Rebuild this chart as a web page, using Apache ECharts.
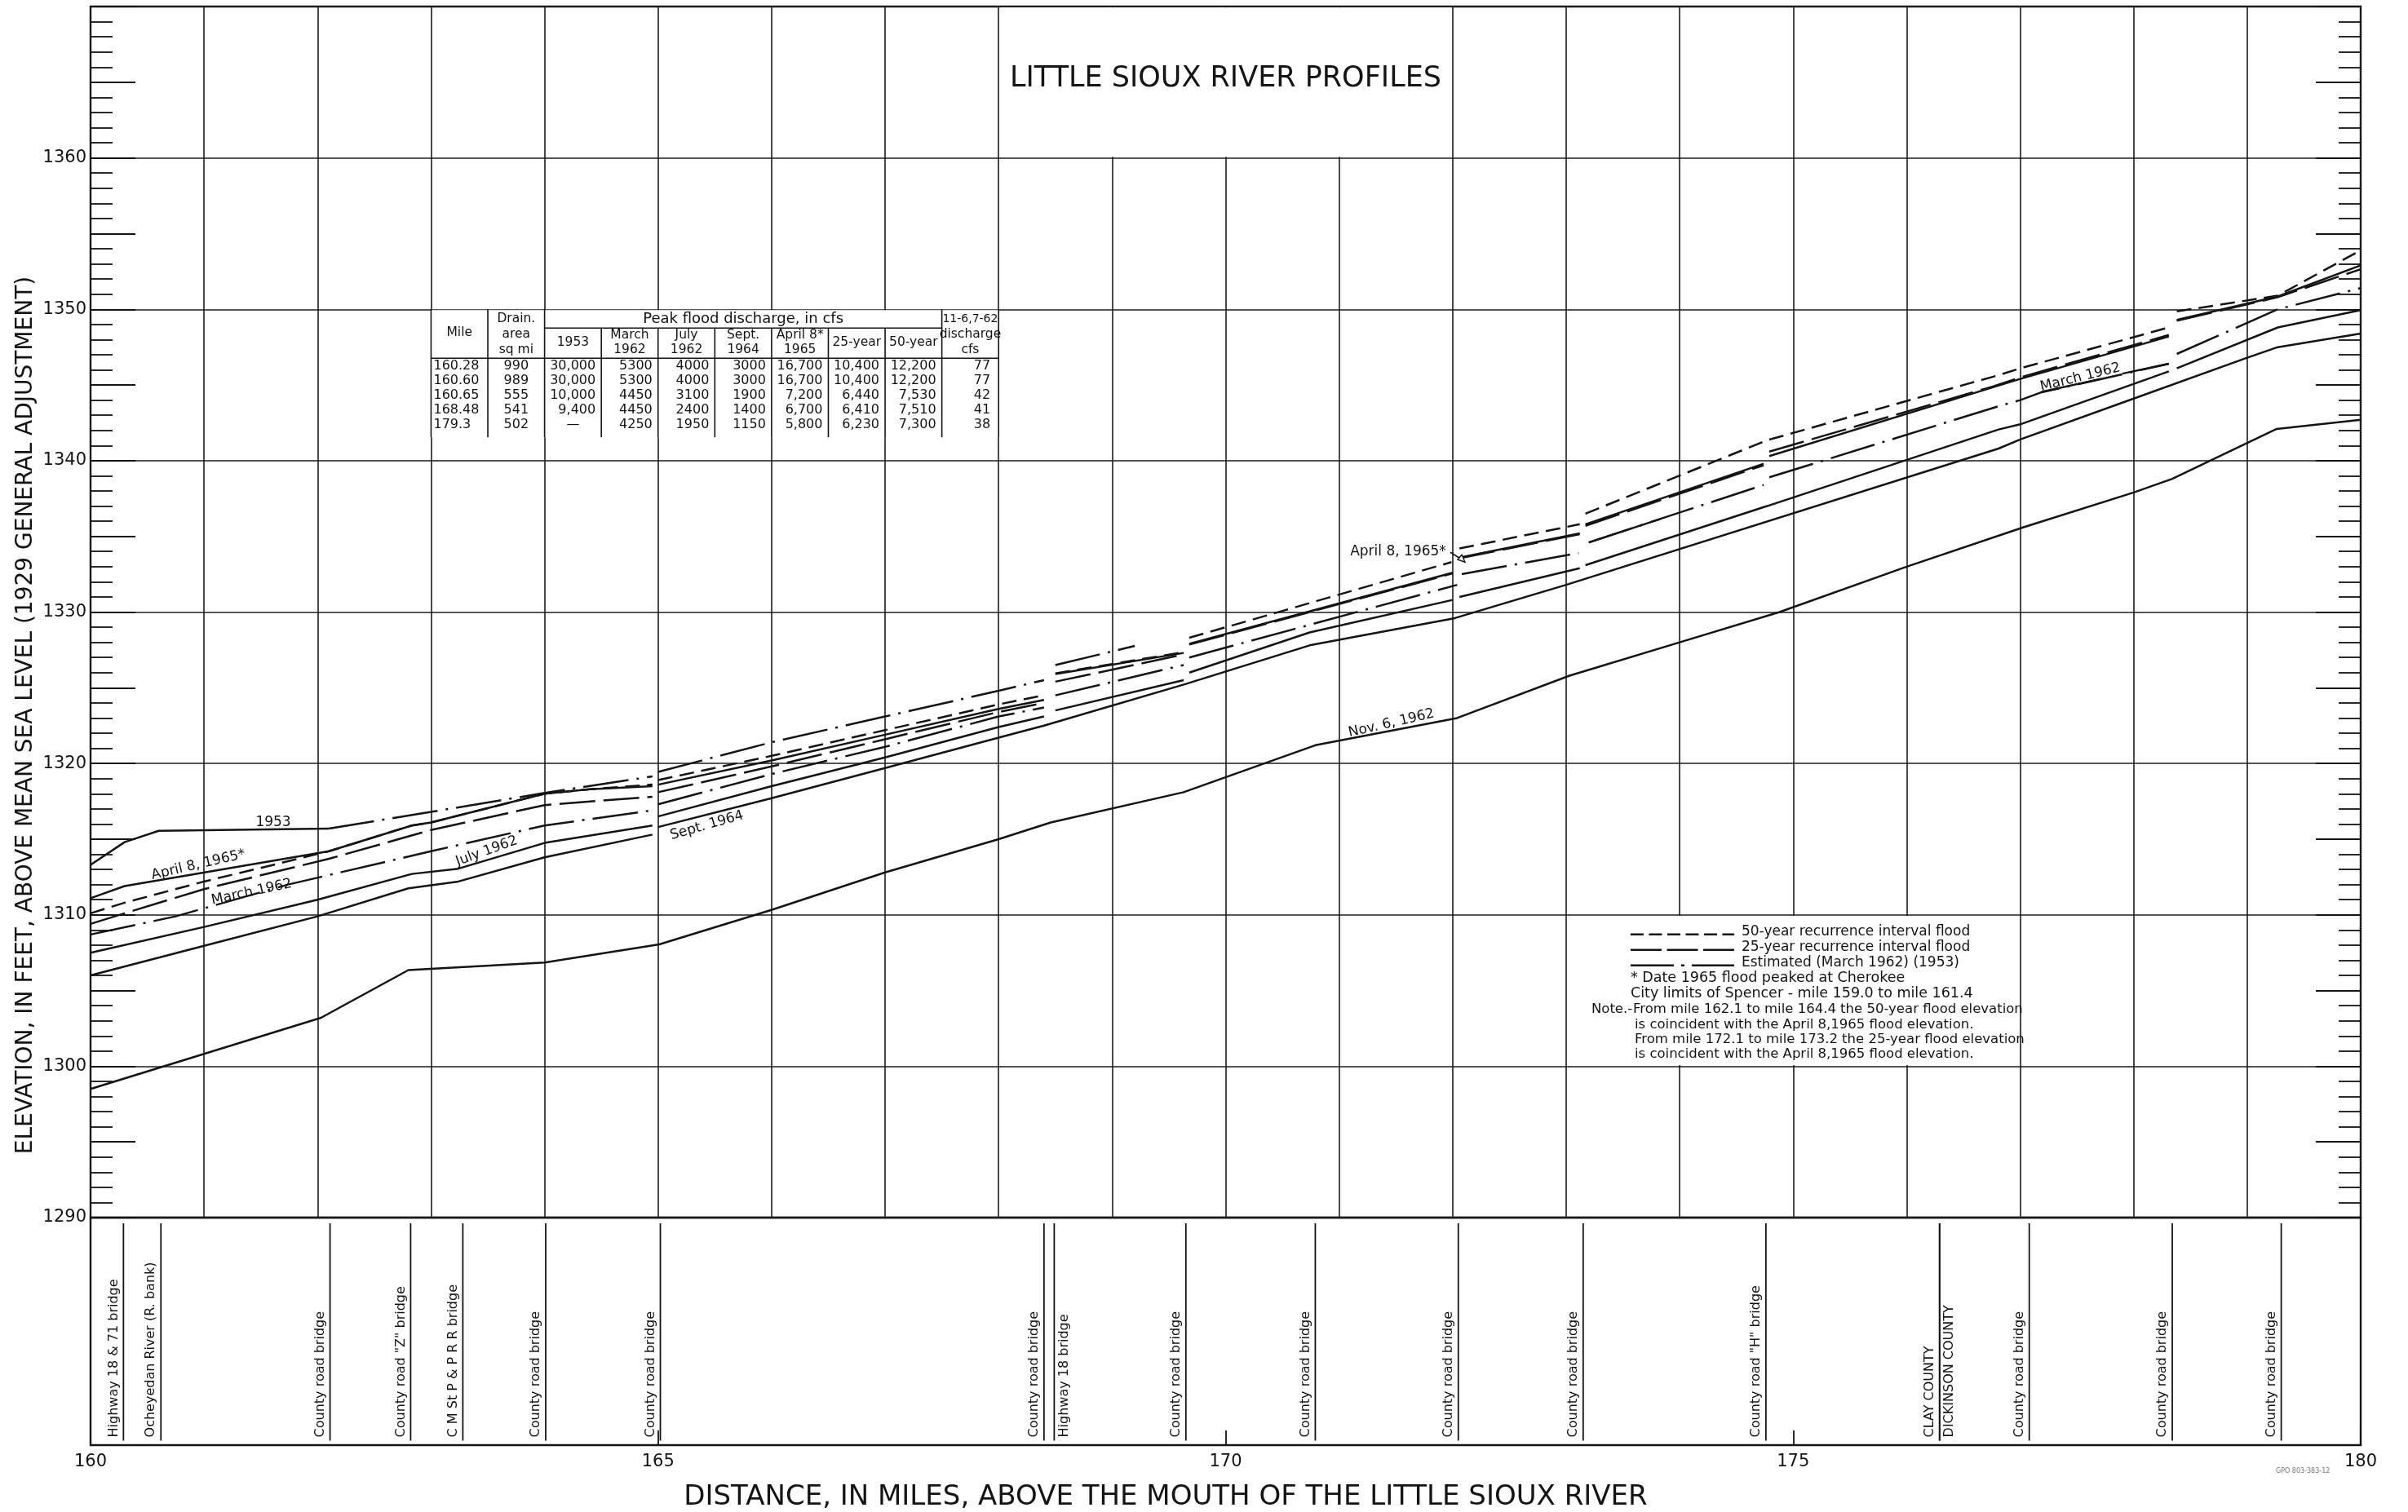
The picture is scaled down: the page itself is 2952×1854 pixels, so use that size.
<!DOCTYPE html>
<html><head><meta charset="utf-8">
<script src="https://cdn.jsdelivr.net/npm/echarts@6/dist/echarts.min.js"></script>
<style>html,body{margin:0;padding:0;background:#fff}#c{width:2952px;height:1854px}</style>
</head><body><div id="c"></div>
<script>
const FONT = '"DejaVu Sans", "Liberation Sans", Arial, sans-serif';
const INK = '#141414';

// ---- axis ticks ----
const yTickLabels = [1290, 1300, 1310, 1320, 1330, 1340, 1350, 1360];
const xTickLabels = [160, 165, 170, 175, 180];
const yAxisTitle = 'ELEVATION, IN FEET, ABOVE MEAN SEA LEVEL (1929 GENERAL ADJUSTMENT)';
const xAxisTitle = 'DISTANCE, IN MILES, ABOVE THE MOUTH OF THE LITTLE SIOUX RIVER';

// ---- water-surface profiles [mile, elevation]; null = break at a bridge ----
const flood50yr = [[160,1310.1],[160.3,1310.8],[161,1312.2],[161.5,1313.1],[162.1,1314.2],[162.83,1315.9],[163,1316.1],[164,1318.0],[164.4,1318.3],[164.95,1318.6],null,[165.0,1318.9],[166,1320.5],[167,1322.2],[168,1323.9],[168.4,1324.5],null,[168.5,1325.95],[169.63,1327.35],null,[169.68,1328.3],[171.99,1333.3],null,[172.06,1334.2],[173.12,1335.8],null,[173.17,1336.5],[174.77,1341.35],[176.81,1345.65],[177,1346.1],[178.31,1348.8],null,[178.38,1349.86],[179.27,1350.9],[180,1353.9]];
const flood25yr = [[160,1309.4],[160.3,1310.1],[161,1311.7],[162.1,1313.7],[163,1315.6],[164,1317.25],[164.95,1317.8],null,[165.0,1318.1],[166,1319.8],[167,1321.6],[168,1323.4],[168.4,1324.0],null,[168.5,1325.4],[169.63,1327.2],null,[169.68,1327.85],[172.0,1332.55],null,[172.06,1333.55],[173.12,1335.15],null,[173.17,1335.7],[174.74,1339.7],null,[174.79,1340.6],[176.76,1344.9],[177,1345.5],[178.31,1348.3],null,[178.38,1349.25],[179.27,1350.8],[180,1352.65]];
const apr1965 = [[160,1311.1],[160.3,1311.9],[162.1,1314.2],[162.83,1315.9],[163,1316.1],[164,1318.0],[164.4,1318.3],[164.95,1318.5],null,[165.0,1318.6],[166,1320.2],[167,1321.9],[168,1323.6],[168.4,1324.2],null,[168.5,1325.9],[169.63,1327.3],null,[169.68,1327.9],[172.0,1332.6],null,[172.06,1333.6],[173.12,1335.2],null,[173.17,1335.8],[174.74,1339.8],null,[174.79,1340.3],[176.76,1344.85],[177,1345.4],[178.31,1348.2],null,[178.38,1349.3],[179.27,1350.85],[180,1352.9]];
const y1953 = [[160,1313.3],[160.3,1314.8],[160.6,1315.55],[162.1,1315.7]];
const y1953Est = [[162.1,1315.7],[163,1316.8],[164,1318.05],[164.95,1319.14],null,[165.0,1319.44],[166,1321.4],[167,1323.1],[168,1324.8],[168.4,1325.5],null,[168.5,1326.5],[169.2,1327.76]];
const mar1962Est = [[160,1308.7],[160.75,1309.9],[161.74,1312.0],[163,1314.2],[164,1315.9],[164.95,1316.9],null,[165.0,1317.3],[166,1319.3],[167,1321.1],[168,1323.1],[168.4,1323.7],null,[168.5,1324.5],[169.63,1326.5],null,[169.68,1327.0],[172.04,1331.8],null,[172.08,1332.5],[173.11,1333.9],null,[173.2,1334.6],[174.74,1338.4],null,[174.79,1338.9],[176.81,1343.6],[177.0,1344.0],[177.18,1344.5],[178.31,1346.4],null,[178.38,1347.05],[179.27,1350.0],[180,1351.4]];
const mar1962 = [[173.2,1334.6],[173.83,1336.15],null,[177.19,1344.55],[177.71,1345.4],null,[177.9,1345.75],[178.31,1346.4]];
const jul1962 = [[160,1307.5],[161,1309.2],[162,1311.0],[162.83,1312.7],[163.24,1313.05],[164,1314.75],[164.95,1315.9],null,[165.0,1316.5],[166,1318.5],[167,1320.4],[168,1322.4],[168.4,1323.1],null,[168.5,1323.5],[169.63,1325.5],null,[169.68,1326.0],[170.74,1328.65],[172.0,1330.8],null,[172.06,1331.0],[173.12,1332.9],null,[173.17,1333.1],[174.77,1337.0],[176.81,1342.06],[177,1342.4],[178.31,1345.9],null,[178.38,1346.1],[179.27,1348.8],[180,1349.95]];
const sep1964 = [[160,1306.0],[161,1307.95],[162,1309.9],[162.8,1311.75],[163.24,1312.2],[164,1313.8],[164.95,1315.3],null,[165.0,1315.8],[166,1317.7],[167,1319.7],[168,1321.7],[168.4,1322.5],[169.65,1325.25],[170.74,1327.8],[172.02,1329.6],[173.0,1331.8],[176.81,1340.8],[177,1341.4],[178,1344.1],[179,1346.8],[179.27,1347.5],[180,1348.4]];
const nov1962 = [[160,1298.5],[162.03,1303.2],[162.8,1306.35],[164.0,1306.85],[165.01,1308.05],[166.01,1310.35],[167,1312.8],[168,1315.0],[168.46,1316.1],[169.63,1318.1],[170.79,1321.2],[172.04,1323.0],[173.03,1325.8],[174,1328.0],[174.88,1330.0],[176,1333.0],[177.03,1335.6],[178,1337.9],[178.34,1338.8],[179.26,1342.1],[180,1342.7]];

// ---- labels written along the profiles ----
const lineLabelText  = ['1953', 'April 8, 1965*', 'March 1962', 'July 1962', 'Sept. 1964', 'Nov. 6, 1962', 'April 8, 1965*', 'March 1962'];
const lineLabelMile  = [161.61, 160.95, 161.42, 163.49, 165.43, 171.46, 171.52, 177.53];
const lineLabelElev  = [1316.1, 1313.3, 1311.5, 1314.2, 1315.9, 1322.65, 1334.0, 1345.5];
const lineLabelAngle = [0, 13, 12, 20, 16, 13, 0, 14];

// ---- bridges / landmarks (bottom strip) ----
const bridgeMiles = [160.29, 160.62, 162.11, 162.82, 163.28, 164.01, 165.02, 168.40, 168.49, 169.65, 170.79, 172.05, 173.15, 174.76, 176.29, 176.29, 177.08, 178.34, 179.30];
const bridgeNames = ['Highway 18 & 71 bridge', 'Ocheyedan River (R. bank)', 'County road bridge', 'County road "Z" bridge', 'C M St P & P R R bridge', 'County road bridge', 'County road bridge', 'County road bridge', 'Highway 18 bridge', 'County road bridge', 'County road bridge', 'County road bridge', 'County road bridge', 'County road "H" bridge', 'CLAY COUNTY', 'DICKINSON COUNTY', 'County road bridge', 'County road bridge', 'County road bridge'];
const bridgeSides = ['L','L','L','L','L','L','L','L','R','L','L','L','L','L','L','R','L','L','L'];

// ---- discharge table ----
const tablePeakHead = 'Peak flood discharge, in cfs';
const tableColHeads = [['Mile'], ['Drain.', 'area', 'sq mi'], ['1953'], ['March', '1962'], ['July', '1962'], ['Sept.', '1964'], ['April 8*', '1965'], ['25-year'], ['50-year'], ['11-6,7-62', 'discharge', 'cfs']];
const tableMiles = ['160.28', '160.60', '160.65', '168.48', '179.3'];
const tableDrain = ['990', '989', '555', '541', '502'];
const table1953  = ['30,000', '30,000', '10,000', '9,400', '—'];
const tableMar62 = ['5300', '5300', '4450', '4450', '4250'];
const tableJul62 = ['4000', '4000', '3100', '2400', '1950'];
const tableSep64 = ['3000', '3000', '1900', '1400', '1150'];
const tableApr65 = ['16,700', '16,700', '7,200', '6,700', '5,800'];
const table25yr  = ['10,400', '10,400', '6,440', '6,410', '6,230'];
const table50yr  = ['12,200', '12,200', '7,530', '7,510', '7,300'];
const tableNov62 = ['77', '77', '42', '41', '38'];

// ---- explanation ----
const legendItems = ['50-year recurrence interval flood', '25-year recurrence interval flood', 'Estimated (March 1962) (1953)'];
const legendNotes = ['* Date 1965 flood peaked at Cherokee', 'City limits of Spencer - mile 159.0 to mile 161.4'];
const legendNoteHead = 'Note.-';
const legendNoteLines = ['From mile 162.1 to mile 164.4 the 50-year flood elevation', 'is coincident with the April 8,1965 flood elevation.', 'From mile 172.1 to mile 173.2 the 25-year flood elevation', 'is coincident with the April 8,1965 flood elevation.'];
const chartTitle = 'LITTLE SIOUX RIVER PROFILES';

// ---------------------------------------------------------------
const DASH50 = [18, 9], DASH25 = [44, 10], DASHDOT = [56, 10, 3, 10];

function txt(x, y, s, size, align, vAlign, rot) {
  return { type: 'text', x: x, y: y, rotation: rot || 0,
    style: { text: s, fill: INK, font: size + 'px ' + FONT, align: align || 'center', verticalAlign: vAlign || 'middle' } };
}
function seg(x1, y1, x2, y2, w, dash) {
  return { type: 'line', shape: { x1: x1, y1: y1, x2: x2, y2: y2 }, style: { stroke: INK, lineWidth: w || 1.6, lineDash: dash || null } };
}
function rectBetween(p1, p2) {
  return { type: 'rect', shape: { x: Math.min(p1[0], p2[0]), y: Math.min(p1[1], p2[1]), width: Math.abs(p2[0] - p1[0]), height: Math.abs(p2[1] - p1[1]) }, style: { fill: '#fff', stroke: null } };
}

function renderDecor(params, api) {
  const ch = [];
  // title box (covers grid lines)
  ch.push(rectBetween(api.coord([168.012, 1369.93]), api.coord([171.988, 1360.07])));
  const tp = api.coord([170, 1365.2]);
  ch.push(txt(tp[0], tp[1], chartTitle, 35, 'center', 'middle'));

  // explanation box
  ch.push(rectBetween(api.coord([173.012, 1309.93]), api.coord([176.988, 1300.07])));
  const L = api.coord([173, 1310]);
  const rowY = [21, 40, 59, 78, 97, 116, 135, 153, 171].map(d => L[1] + d);
  const sx1 = L[0] + 79, sx2 = L[0] + 206;
  const dashes = [[16, 6.5], [38, 6.5], [53, 9, 4, 9]];
  for (let i = 0; i < 3; i++) {
    ch.push(seg(sx1, rowY[i] + 3, sx2, rowY[i] + 3, 2.4, dashes[i]));
    ch.push(txt(L[0] + 215, rowY[i], legendItems[i], 17, 'left', 'middle'));
  }
  ch.push(txt(L[0] + 79, rowY[3], legendNotes[0], 17.5, 'left', 'middle'));
  ch.push(txt(L[0] + 79, rowY[4], legendNotes[1], 17.5, 'left', 'middle'));
  ch.push(txt(L[0] + 31, rowY[5], legendNoteHead, 16.5, 'left', 'middle'));
  for (let i = 0; i < 4; i++) ch.push(txt(L[0] + (i === 0 ? 82 : 84), rowY[5 + i], legendNoteLines[i], 16.5, 'left', 'middle'));

  // discharge table
  const cx = k => api.coord([163 + 0.5 * k, 1350])[0];
  const top = api.coord([163, 1350])[1];
  const yPeak = top + 23, yHead = top + 60, bot = top + 157;
  ch.push(rectBetween([cx(0), top + 1], [cx(10), bot]));
  ch.push(seg(cx(0), top, cx(0), bot));
  ch.push(seg(cx(10), top, cx(10), bot));
  for (let k = 1; k <= 9; k++) ch.push(seg(cx(k), (k >= 3 && k <= 8) ? yPeak : top, cx(k), bot));
  ch.push(seg(cx(2), yPeak, cx(9), yPeak));
  ch.push(seg(cx(0), yHead, cx(10), yHead));
  ch.push(txt((cx(2) + cx(9)) / 2, top + 12, tablePeakHead, 18, 'center', 'middle'));
  tableColHeads.forEach((h, k) => {
    const mid = (cx(k) + cx(k + 1)) / 2;
    let ys;
    if (k === 0) ys = [top + 29];
    else if (h.length === 3) ys = [top + 12, top + 31, top + 50];
    else if (h.length === 2) ys = [top + 32, top + 50];
    else ys = [top + 41];
    h.forEach((s, j) => ch.push(txt(mid, ys[j], s, (k === 9 && j === 0) ? 14 : 15.5, 'center', 'middle')));
  });
  const cols = [tableMiles, tableDrain, table1953, tableMar62, tableJul62, tableSep64, tableApr65, table25yr, table50yr, tableNov62];
  cols.forEach((col, k) => {
    col.forEach((s, r) => {
      const y = top + 70 + r * 18;
      if (k === 0) ch.push(txt(cx(0) + 3, y, s, 16, 'left', 'middle'));
      else if (k === 1 || s === '—') ch.push(txt((cx(k) + cx(k + 1)) / 2, y, s, 16, 'center', 'middle'));
      else ch.push(txt(cx(k + 1) - (k === 9 ? 10 : 7), y, s, 16, 'right', 'middle'));
    });
  });
  return { type: 'group', children: ch };
}

function renderLabels(params, api) {
  const i = api.value(2);
  const p = api.coord([api.value(0), api.value(1)]);
  const ch = [txt(p[0], p[1], lineLabelText[i], 17, 'center', 'middle', lineLabelAngle[i] * Math.PI / 180)];
  if (i === 6) {
    // small pointer from the label to the profile at the bridge
    const x0 = p[0] + 64, y0 = p[1] + 1, x1 = p[0] + 80, y1 = p[1] + 11;
    ch.push(seg(x0, y0, x1, y1, 1.6));
    ch.push({ type: 'polygon', shape: { points: [[x1 + 2, y1 + 2], [x1 - 7, y1 - 1], [x1 - 2, y1 - 7]] }, style: { fill: '#fff', stroke: INK, lineWidth: 1.4 } });
  }
  return { type: 'group', children: ch };
}

function renderBridges(params, api) {
  const i = api.value(1);
  const m = api.value(0);
  const p1 = api.coord([m, 0.975]), p2 = api.coord([m, 0.02]);
  const left = bridgeSides[i] === 'L';
  return { type: 'group', children: [
    seg(p1[0], p1[1], p2[0], p2[1], 1.8),
    txt(p2[0] + (left ? -4 : 4), p2[1] - 4, bridgeNames[i], 16, 'left', left ? 'bottom' : 'top', Math.PI / 2)
  ] };
}

const toPts = arr => arr.map(p => p ? p : ['-', '-']);
function profile(name, data, dash, width) {
  return { type: 'line', name: name, xAxisIndex: 0, yAxisIndex: 0, data: toPts(data),
    showSymbol: false, symbol: 'none', connectNulls: false, silent: true, z: 4,
    lineStyle: { color: INK, width: width || 2.5, type: dash || 'solid', cap: 'butt' } };
}

const tickStyle = { color: INK, width: 1.8 };
const option = {
  animation: false,
  backgroundColor: '#fff',
  textStyle: { fontFamily: FONT, color: INK },
  grid: [
    { left: 111, right: 58, top: 8, height: 1485, show: true, borderColor: INK, borderWidth: 2.4, backgroundColor: 'transparent' },
    { left: 111, right: 58, top: 1493, height: 279, show: true, borderColor: INK, borderWidth: 2.4, backgroundColor: 'transparent' }
  ],
  xAxis: [
    { gridIndex: 0, type: 'value', min: 160, max: 180, interval: 1,
      axisLine: { show: false }, axisTick: { show: false }, axisLabel: { show: false },
      splitLine: { show: true, lineStyle: { color: '#1c1c1c', width: 1.6 } } },
    { gridIndex: 1, type: 'value', min: 160, max: 180, interval: 5,
      axisLine: { show: false },
      axisTick: { show: true, inside: true, length: 18, lineStyle: tickStyle },
      axisLabel: { show: true, margin: 10, fontSize: 21, color: INK, fontFamily: FONT,
        formatter: v => xTickLabels.includes(v) ? String(v) : '' },
      splitLine: { show: false } }
  ],
  yAxis: [
    { gridIndex: 0, type: 'value', min: 1290, max: 1370, interval: 10, position: 'left',
      axisLine: { show: false }, axisTick: { show: false },
      axisLabel: { margin: 5, fontSize: 21, color: INK, fontFamily: FONT, formatter: v => yTickLabels.includes(v) ? String(v) : '' },
      splitLine: { show: true, lineStyle: { color: '#1c1c1c', width: 1.6 } } },
    { gridIndex: 0, type: 'value', min: 1290, max: 1370, interval: 5, position: 'left',
      axisLine: { show: false }, axisLabel: { show: false }, splitLine: { show: false },
      axisTick: { show: true, inside: true, length: 55, lineStyle: tickStyle },
      minorTick: { show: true, splitNumber: 5, length: 27, lineStyle: tickStyle } },
    { gridIndex: 0, type: 'value', min: 1290, max: 1370, interval: 5, position: 'right',
      axisLine: { show: false }, axisLabel: { show: false }, splitLine: { show: false },
      axisTick: { show: true, inside: true, length: 55, lineStyle: tickStyle },
      minorTick: { show: true, splitNumber: 5, length: 27, lineStyle: tickStyle } },
    { gridIndex: 1, type: 'value', min: 0, max: 1, show: false }
  ],
  series: [
    { type: 'custom', name: 'decor', coordinateSystem: 'cartesian2d', xAxisIndex: 0, yAxisIndex: 0,
      data: [[170, 1365]], renderItem: renderDecor, silent: true, z: 2 },
    profile('Nov. 6, 1962', nov1962, 'solid'),
    profile('Sept. 1964', sep1964, 'solid'),
    profile('July 1962', jul1962, 'solid'),
    profile('March 1962 (estimated)', mar1962Est, DASHDOT),
    profile('March 1962', mar1962, 'solid'),
    profile('1953', y1953, 'solid'),
    profile('1953 (estimated)', y1953Est, DASHDOT),
    profile('April 8, 1965', apr1965, 'solid'),
    profile('25-year', flood25yr, DASH25),
    profile('50-year', flood50yr, DASH50),
    { type: 'custom', name: 'labels', coordinateSystem: 'cartesian2d', xAxisIndex: 0, yAxisIndex: 0,
      data: lineLabelText.map((t, i) => [lineLabelMile[i], lineLabelElev[i], i]), renderItem: renderLabels, silent: true, z: 6 },
    { type: 'custom', name: 'bridges', coordinateSystem: 'cartesian2d', xAxisIndex: 1, yAxisIndex: 3,
      data: bridgeMiles.map((m, i) => [m, i]), renderItem: renderBridges, silent: true, z: 3 }
  ],
  graphic: [
    { type: 'text', x: 32, y: 877, rotation: Math.PI / 2,
      style: { text: yAxisTitle, font: '28px ' + FONT, fill: INK, align: 'center', verticalAlign: 'middle', textAlign: 'center', textVerticalAlign: 'middle' } },
    { type: 'text', x: 1429, y: 1836,
      style: { text: xAxisTitle, font: '34px ' + FONT, fill: INK, align: 'center', verticalAlign: 'middle', textAlign: 'center', textVerticalAlign: 'middle' } },
    { type: 'text', x: 2790, y: 1800, style: { text: 'GPO 803-383-12', font: '8px ' + FONT, fill: '#777' } }
  ]
};

const chart = echarts.init(document.getElementById('c'), null, { renderer: 'canvas', width: 2952, height: 1854 });
chart.setOption(option);
</script>
</body></html>
